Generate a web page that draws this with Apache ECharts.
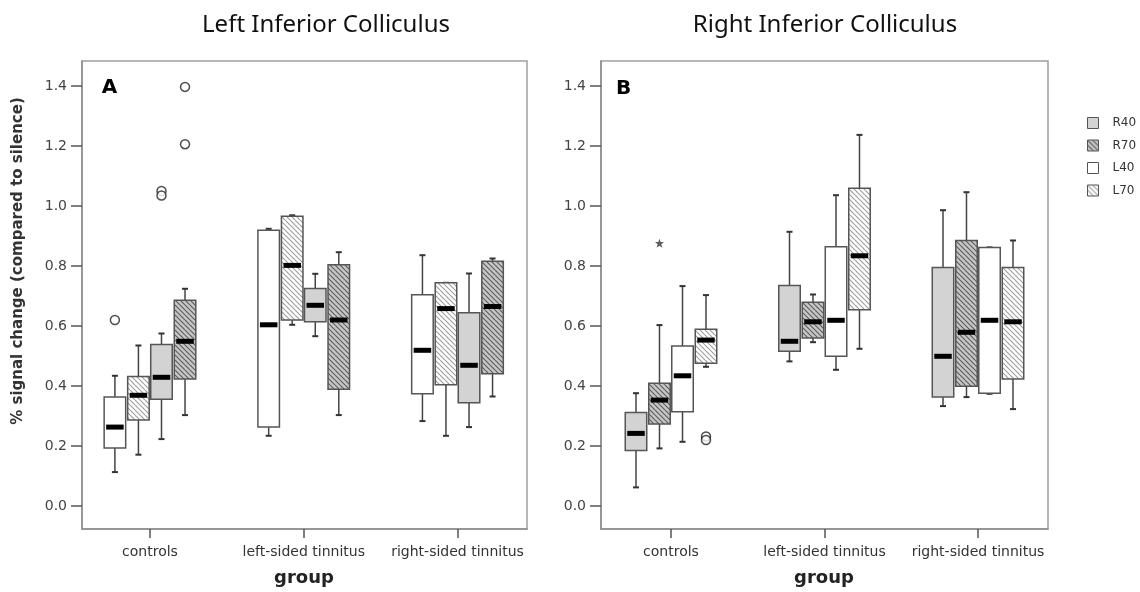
<!DOCTYPE html>
<html><head><meta charset="utf-8">
<script src="https://cdn.jsdelivr.net/npm/echarts@6/dist/echarts.min.js"></script>
<style>html,body{margin:0;padding:0;background:#fff}#c{width:1140px;height:592px}</style>
</head><body><div id="c"></div>
<script>
// ---------- data ----------
const groups = ['controls', 'left-sided tinnitus', 'right-sided tinnitus'];
const conditions = ['R40', 'R70', 'L40', 'L70'];
const yTicks = [0, 0.2, 0.4, 0.6, 0.8, 1.0, 1.2, 1.4];
const panelTitles = ['Left Inferior Colliculus', 'Right Inferior Colliculus'];
const panelLetters = ['A', 'B'];

// box stats per group: [min, q1, median, q3, max]
// Panel A: Left Inferior Colliculus
const leftL40 = [[0.113, 0.193, 0.263, 0.363, 0.434], [0.234, 0.263, 0.604, 0.919, 0.924], [0.283, 0.374, 0.519, 0.704, 0.836]];
const leftL70 = [[0.171, 0.287, 0.369, 0.432, 0.535], [0.604, 0.620, 0.802, 0.966, 0.969], [0.234, 0.404, 0.658, 0.744, 0.744]];
const leftR40 = [[0.223, 0.356, 0.429, 0.538, 0.575], [0.566, 0.614, 0.669, 0.725, 0.774], [0.263, 0.344, 0.469, 0.644, 0.775]];
const leftR70 = [[0.303, 0.423, 0.549, 0.686, 0.724], [0.303, 0.389, 0.620, 0.804, 0.846], [0.365, 0.441, 0.665, 0.816, 0.825]];
// Panel B: Right Inferior Colliculus
const rightR40 = [[0.062, 0.185, 0.242, 0.312, 0.376], [0.482, 0.516, 0.549, 0.735, 0.914], [0.333, 0.363, 0.499, 0.795, 0.986]];
const rightR70 = [[0.192, 0.273, 0.353, 0.409, 0.603], [0.546, 0.560, 0.614, 0.679, 0.705], [0.363, 0.399, 0.579, 0.885, 1.046]];
const rightL40 = [[0.214, 0.314, 0.434, 0.533, 0.733], [0.454, 0.499, 0.619, 0.864, 1.036], [0.374, 0.376, 0.619, 0.862, 0.862]];
const rightL70 = [[0.464, 0.476, 0.553, 0.589, 0.703], [0.524, 0.654, 0.834, 1.059, 1.237], [0.323, 0.423, 0.614, 0.795, 0.885]];

// outliers: [groupIndex, value]
const leftL40Outliers = [[0, 0.62]];
const leftR40Outliers = [[0, 1.05], [0, 1.035]];
const leftR70Outliers = [[0, 1.397], [0, 1.206]];
const rightL70Outliers = [[0, 0.232], [0, 0.220]];
const rightR70Extremes = [[0, 0.876]];

// ---------- presentation ----------
const SLOT = [-0.228, -0.075, 0.075, 0.228];
const BOX_W = 0.14;
const orderA = ['L40', 'L70', 'R40', 'R70'];
const orderB = ['R40', 'R70', 'L40', 'L70'];

function hatch(bg, line, lw) {
  const s = 5, c = document.createElement('canvas');
  c.width = c.height = s;
  const g = c.getContext('2d');
  g.fillStyle = bg; g.fillRect(0, 0, s, s);
  g.strokeStyle = line; g.lineWidth = lw;
  g.beginPath();
  for (let k = -1; k <= 1; k++) { g.moveTo(0, k * s); g.lineTo(s, s + k * s); }
  g.stroke();
  return { image: c, repeat: 'repeat' };
}
const fills = {
  R40: '#d3d3d3',
  R70: hatch('#c6c6c6', '#5a5a5a', 1.1),
  L40: '#ffffff',
  L70: hatch('#ffffff', '#9c9c9c', 1.1)
};

function makeRender(fill) {
  return function (params, api) {
    const x = api.value(0);
    const lo = api.coord([x, api.value(1)]);
    const q1 = api.coord([x, api.value(2)]);
    const md = api.coord([x, api.value(3)]);
    const q3 = api.coord([x, api.value(4)]);
    const hi = api.coord([x, api.value(5)]);
    const w = api.size([BOX_W, 0])[0];
    const cx = lo[0], h = w / 2, cap = 3;
    const ls = { stroke: '#444', lineWidth: 1.5 };
    const cs = { stroke: '#333', lineWidth: 2 };
    return {
      type: 'group',
      children: [
        { type: 'line', shape: { x1: cx, y1: hi[1], x2: cx, y2: q3[1] }, style: ls },
        { type: 'line', shape: { x1: cx, y1: q1[1], x2: cx, y2: lo[1] }, style: ls },
        { type: 'line', shape: { x1: cx - cap, y1: hi[1], x2: cx + cap, y2: hi[1] }, style: cs },
        { type: 'line', shape: { x1: cx - cap, y1: lo[1], x2: cx + cap, y2: lo[1] }, style: cs },
        { type: 'rect', shape: { x: cx - h, y: q3[1], width: w, height: q1[1] - q3[1] },
          style: { fill: fill, stroke: '#555', lineWidth: 1.5 } },
        { type: 'rect', shape: { x: cx - h + 2, y: md[1] - 2.5, width: w - 4, height: 5 },
          style: { fill: '#000' } }
      ]
    };
  };
}

const stats = {
  A: { L40: leftL40, L70: leftL70, R40: leftR40, R70: leftR70 },
  B: { R40: rightR40, R70: rightR70, L40: rightL40, L70: rightL70 }
};

const series = [];
[['A', orderA, 0], ['B', orderB, 1]].forEach(([p, order, idx]) => {
  order.forEach((cond, pos) => {
    series.push({
      type: 'custom', name: cond, xAxisIndex: idx, yAxisIndex: idx,
      renderItem: makeRender(fills[cond]),
      encode: { x: 0, y: [1, 2, 3, 4, 5] },
      data: stats[p][cond].map((s, gi) => [gi + SLOT[pos]].concat(s)),
      z: 2
    });
  });
});

function outlierSeries(arr, idx, pos, symbol, size, style) {
  return {
    type: 'scatter', xAxisIndex: idx, yAxisIndex: idx, symbol: symbol, symbolSize: size,
    data: arr.map(d => [d[0] + SLOT[pos], d[1]]), itemStyle: style, z: 5, silent: true
  };
}
const circ = { color: '#fff', borderColor: '#222', borderWidth: 1.5 };
series.push(outlierSeries(leftL40Outliers, 0, orderA.indexOf('L40'), 'circle', 9, circ));
series.push(outlierSeries(leftR40Outliers, 0, orderA.indexOf('R40'), 'circle', 9, circ));
series.push(outlierSeries(leftR70Outliers, 0, orderA.indexOf('R70'), 'circle', 9, circ));
series.push(outlierSeries(rightL70Outliers, 1, orderB.indexOf('L70'), 'circle', 9, circ));
series.push(outlierSeries(rightR70Extremes, 1, orderB.indexOf('R70'),
  'path://M0,-10L2.4,-3.3L9.5,-3.1L3.9,1.3L5.9,8.1L0,4.1L-5.9,8.1L-3.9,1.3L-9.5,-3.1L-2.4,-3.3Z', 9,
  { color: '#333' }));

const grids = [
  { left: 82, top: 61, width: 445, height: 468 },
  { left: 601, top: 61, width: 447, height: 468 }
];
const xRanges = [[-0.442, 2.452], [-0.456, 2.456]];

const axisFont = 'DejaVu Sans';
const xAxes = grids.map((g, i) => ({
  type: 'value', gridIndex: i, min: xRanges[i][0], max: xRanges[i][1],
  splitLine: { show: false },
  axisLine: { show: true, onZero: false, lineStyle: { color: '#8c8c8c', width: 1.5 } },
  axisTick: { show: true, length: 9, customValues: groups.map((_, k) => k), lineStyle: { color: '#555', width: 1.5 } },
  axisLabel: { customValues: groups.map((_, k) => k), formatter: v => groups[Math.round(v)],
    margin: 16, fontFamily: axisFont, fontSize: 14, color: '#333' }
}));
const yAxes = grids.map((g, i) => ({
  type: 'value', gridIndex: i, min: -0.0767, max: 1.4833,
  splitLine: { show: false },
  axisLine: { show: true, onZero: false, lineStyle: { color: '#8c8c8c', width: 1.5 } },
  axisTick: { show: true, length: 11, customValues: yTicks, lineStyle: { color: '#555', width: 1.5 } },
  axisLabel: { customValues: yTicks, formatter: v => v.toFixed(1),
    margin: 15, fontFamily: axisFont, fontSize: 14, color: '#444' }
}));

const graphics = [];
const titleX = [326, 825];
const letterPos = [[109.5, 88], [623.5, 88.5]];
const groupX = [304, 824];
[0, 1].forEach(i => {
  graphics.push({ type: 'text', x: titleX[i], y: 25, silent: true,
    style: { text: panelTitles[i], font: '24px "Noto Sans"', fill: '#111', align: 'center', verticalAlign: 'middle' } });
  graphics.push({ type: 'text', x: letterPos[i][0], y: letterPos[i][1], silent: true,
    style: { text: panelLetters[i], font: 'bold 20px "DejaVu Sans"', fill: '#000', align: 'center', verticalAlign: 'middle' } });
  graphics.push({ type: 'text', x: groupX[i], y: 578, silent: true,
    style: { text: 'group', font: 'bold 18px "DejaVu Sans"', fill: '#222', align: 'center', verticalAlign: 'middle' } });
});
graphics.push({ type: 'text', x: 18, y: 261, rotation: Math.PI / 2, silent: true,
  style: { text: '% signal change (compared to silence)', font: 'bold 15px "DejaVu Sans"', fill: '#333', align: 'center', verticalAlign: 'middle' } });

const chart = echarts.init(document.getElementById('c'), null, { renderer: 'canvas' });
chart.setOption({
  backgroundColor: '#fff',
  animation: false,
  grid: grids.map(g => Object.assign({ show: true, borderColor: '#a0a0a0', borderWidth: 1.5, backgroundColor: 'transparent' }, g)),
  xAxis: xAxes,
  yAxis: yAxes,
  legend: {
    orient: 'vertical', left: 1082, top: 112, itemWidth: 11, itemHeight: 11, itemGap: 10.5,
    icon: 'rect', selectedMode: false,
    textStyle: { fontFamily: axisFont, fontSize: 12, color: '#333', padding: [0, 0, 0, 9] },
    data: conditions.map(c => ({ name: c, itemStyle: { color: fills[c], borderColor: '#555', borderWidth: 1 } }))
  },
  graphic: graphics,
  series: series
});
</script></body></html>
